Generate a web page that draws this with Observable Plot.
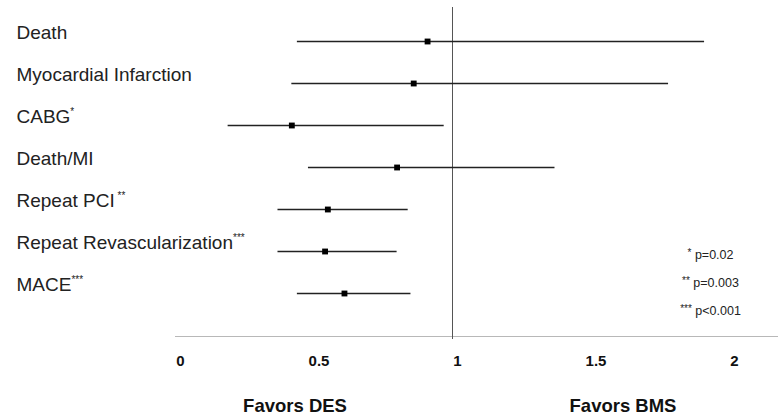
<!DOCTYPE html>
<html>
<head>
<meta charset="utf-8">
<script src="https://cdn.jsdelivr.net/npm/d3@7"></script>
<script src="https://cdn.jsdelivr.net/npm/@observablehq/plot@0.6"></script>
<style>
  html, body { margin: 0; padding: 0; background: #fff; }
  #chart { width: 778px; height: 414px; overflow: hidden; }
</style>
</head>
<body>
<div id="chart"></div>
<script>
const names = ["Death", "Myocardial Infarction", "CABG", "Death/MI", "Repeat PCI", "Repeat Revascularization", "MACE"];
const oddsRatio = [0.91, 0.86, 0.42, 0.80, 0.55, 0.54, 0.61];
const ciLow = [0.44, 0.42, 0.19, 0.48, 0.37, 0.37, 0.44];
const ciHigh = [1.91, 1.78, 0.97, 1.37, 0.84, 0.80, 0.85];
const stars = ["", "", "*", "", " **", "***", "***"];
const xTicks = [0, 0.5, 1, 1.5, 2];
const pStars = ["*", "**", "***"];
const pValues = ["p=0.02", "p=0.003", "p<0.001"];
const favors = ["Favors DES", "Favors BMS"];

const rows = names.map((name, i) => ({name, or: oddsRatio[i], lo: ciLow[i], hi: ciHigh[i], star: stars[i]}));

const chart = Plot.plot({
  width: 778,
  height: 414,
  marginLeft: 175,
  marginRight: 1,
  marginTop: 7,
  marginBottom: 78,
  style: {fontFamily: "'Liberation Sans', Arial, sans-serif", background: "#fff", color: "#222"},
  x: {domain: [0, 602 / 277], axis: null},
  y: {type: "point", domain: names, range: [40, 294], padding: 0, axis: null},
  marks: [
    Plot.frame({anchor: "bottom", stroke: "#b8b8b8", strokeWidth: 1}),
    Plot.ruleX([1], {stroke: "#555", strokeWidth: 1, insetBottom: -3}),
    Plot.ruleY(rows, {y: "name", x1: "lo", x2: "hi", stroke: "#222", strokeWidth: 1.6}),
    Plot.dot(rows, {x: "or", y: "name", symbol: "square", r: 3.3, fill: "#000", stroke: null}),
    Plot.text(rows, {y: "name", text: "name", frameAnchor: "left", dx: -159, dy: -3,
      textAnchor: "start", lineAnchor: "bottom", fontSize: 19, fill: "#222"}),
    Plot.axisX(xTicks, {tickSize: 0, tickPadding: 19, dx: 5, fontSize: 15, fontWeight: "bold",
      tickFormat: d => String(d), fill: "#111"}),
    Plot.text([favors[0]], {frameAnchor: "bottom", dx: -181.5, dy: 75, lineAnchor: "bottom",
      fontSize: 18.5, fontWeight: "bold", fill: "#111"}),
    Plot.text([favors[1]], {frameAnchor: "bottom", dx: 146.5, dy: 75, lineAnchor: "bottom",
      fontSize: 18.5, fontWeight: "bold", fill: "#111"}),
    Plot.text([pValues.map((p, i) => pStars[i] + " " + p).join("\n")], {
      frameAnchor: "bottom-right", dx: -67, dy: -21.5, lineAnchor: "bottom", textAnchor: "middle",
      lineHeight: 2.24, fontSize: 12.5, fill: "#222"})
  ]
});

document.getElementById("chart").appendChild(chart);

const textGroups = d3.select(chart).selectAll('g[aria-label="text"]').nodes();
const labelGroup = textGroups[0];
const pGroup = textGroups[textGroups.length - 1];

// superscript stars after row labels
d3.select(labelGroup).selectAll("text").each(function(_, i) {
  const s = rows[i].star;
  if (!s) return;
  d3.select(this).append("tspan").attr("font-size", 10).attr("baseline-shift", "8px").text(s);
});

// small raised stars in the p-value notes (baseline-shift keeps each line's own offset)
d3.select(pGroup).selectAll("tspan").each(function(_, i) {
  const t = d3.select(this);
  t.text("");
  t.append("tspan").attr("font-size", 10).attr("baseline-shift", "3px").text(pStars[i]);
  t.append("tspan").text(" " + pValues[i]);
});
</script>
</body>
</html>
